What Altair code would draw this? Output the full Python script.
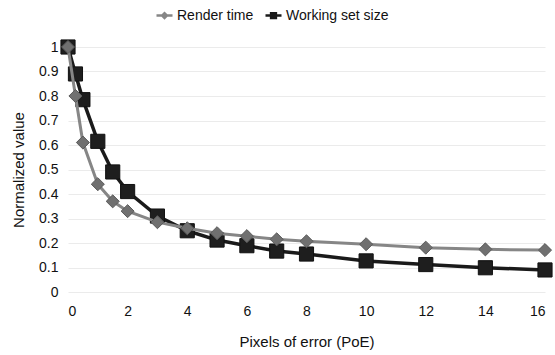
import altair as alt
import pandas as pd

poe = [0, 0.25, 0.5, 1, 1.5, 2, 3, 4, 5, 6, 7, 8, 10, 12, 14, 16]
render_time = [1.0, 0.80, 0.61, 0.44, 0.37, 0.33, 0.285, 0.26, 0.24, 0.228, 0.215, 0.207, 0.195, 0.181, 0.174, 0.171]
working_set = [1.0, 0.89, 0.785, 0.615, 0.49, 0.41, 0.31, 0.25, 0.212, 0.189, 0.167, 0.155, 0.127, 0.112, 0.099, 0.09]
series = ["Render time", "Working set size"]
x_ticks = [0, 2, 4, 6, 8, 10, 12, 14, 16]
y_ticks = [0, 0.1, 0.2, 0.3, 0.4, 0.5, 0.6, 0.7, 0.8, 0.9, 1.0]

rows = []
for i, x in enumerate(poe):
    rows.append({"PoE": x, "value": render_time[i], "series": series[0]})
    rows.append({"PoE": x, "value": working_set[i], "series": series[1]})
df = pd.DataFrame(rows)
rt = df[df["series"] == series[0]]
ws = df[df["series"] == series[1]]

FONT = "Liberation Sans"
line_colors = ["#868686", "#1a1a1a"]
point_fill = ["#707070", "#1e1e1e"]
point_stroke = ["#5a5a5a", "#111111"]

x_enc = alt.X("PoE:Q", title="Pixels of error (PoE)",
              scale=alt.Scale(domain=[0, 16], nice=False),
              axis=alt.Axis(values=x_ticks, grid=False, labelPadding=12, titlePadding=16))
y_enc = alt.Y("value:Q", title="Normalized value",
              scale=alt.Scale(domain=[0, 1], nice=False),
              axis=alt.Axis(values=y_ticks, format=".1~f", labelPadding=10, titlePadding=12))

legend_shapes = [
    "M-1,0L1,0M-0.3,0L0,-0.3L0.3,0L0,0.3Z",
    "M-1,0L1,0M-0.3,-0.3L0.3,-0.3L0.3,0.3L-0.3,0.3Z",
]
leg = alt.Legend(
    title=None, orient="none", direction="horizontal", legendX=87, legendY=-41,
    symbolSize=256, symbolStrokeWidth=2.5, labelFontSize=14, columnPadding=6,
    labelFont=FONT, symbolOpacity=1, labelColor="#111", labelOffset=3,
)

legend_layer = alt.Chart(df).mark_point(filled=True, opacity=0, strokeWidth=2.5).encode(
    x=x_enc, y=y_enc,
    fill=alt.Fill("series:N", scale=alt.Scale(domain=series, range=line_colors), legend=leg),
    stroke=alt.Stroke("series:N", scale=alt.Scale(domain=series, range=line_colors), legend=leg),
    shape=alt.Shape("series:N", scale=alt.Scale(domain=series, range=legend_shapes), legend=leg),
)

ws_line = alt.Chart(ws).mark_line(strokeWidth=3.5, color=line_colors[1]).encode(x=x_enc, y=y_enc)
rt_line = alt.Chart(rt).mark_line(strokeWidth=3, color=line_colors[0]).encode(x=x_enc, y=y_enc)
ws_pts = alt.Chart(ws).mark_point(shape="square", filled=True, opacity=1, size=200,
                                  fill=point_fill[1], stroke=point_stroke[1], strokeWidth=1).encode(x=x_enc, y=y_enc)
rt_pts = alt.Chart(rt).mark_point(shape="diamond", filled=True, opacity=1, size=170,
                                  fill=point_fill[0], stroke=point_stroke[0], strokeWidth=1).encode(x=x_enc, y=y_enc)

chart = alt.layer(
    legend_layer, ws_line, ws_pts, rt_line, rt_pts,
).properties(
    width=477, height=245,
    background="white",
    autosize=alt.AutoSizeParams(type="none"),
    padding={"left": 68, "top": 47, "right": 10, "bottom": 63},
).configure_view(stroke=None).configure_axis(
    domain=False, ticks=False, labelFont=FONT, titleFont=FONT,
    labelFontSize=14, titleFontSize=15, labelColor="#111", titleColor="#111",
    titleFontWeight="normal", gridColor="#ebebeb", gridWidth=1,
)

chart.save("out.html", embed_options={"renderer": "svg", "actions": False})
